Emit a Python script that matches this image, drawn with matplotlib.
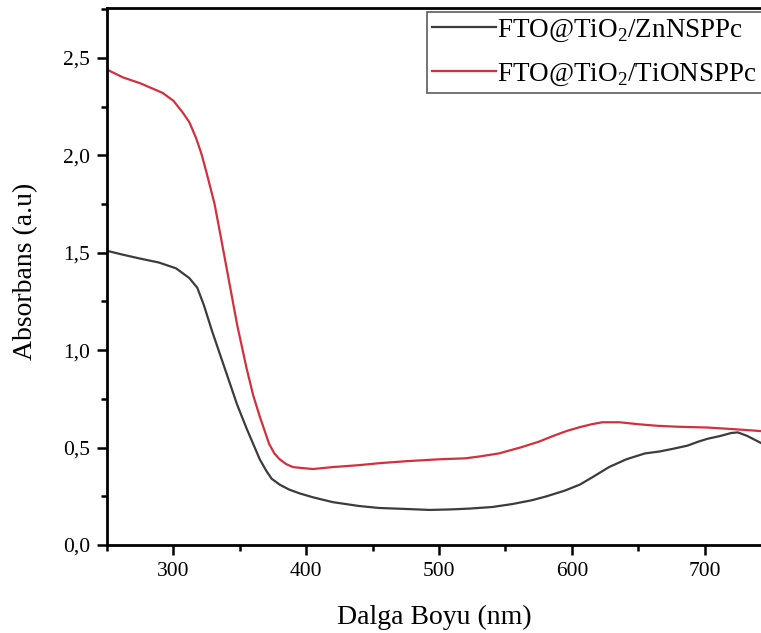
import matplotlib
matplotlib.use("Agg")
import matplotlib.pyplot as plt
from matplotlib.ticker import FuncFormatter, MultipleLocator

plt.rcParams["font.family"] = ["Liberation Serif", "DejaVu Serif"]
plt.rcParams["mathtext.fontset"] = "custom"
plt.rcParams["mathtext.rm"] = "Liberation Serif"

COLOR_ZN = "#3c3c3c"
COLOR_TI = "#d3303e"

# wavelength (nm) / absorbance
wl_zn = [250, 262, 275, 289, 302, 312, 318, 323, 329, 336, 342, 348, 355, 360, 365,
         370, 374, 380, 387, 395, 405, 420, 440, 455, 475, 493, 510, 523, 540, 555,
         570, 581, 595, 606, 616, 628, 641, 655, 666, 677, 687, 695, 702, 712, 720,
         725, 732, 742]
ab_zn = [1.51, 1.49, 1.47, 1.45, 1.42, 1.37, 1.32, 1.23, 1.10, 0.96, 0.84, 0.72, 0.60, 0.52, 0.44,
         0.38, 0.34, 0.31, 0.285, 0.265, 0.245, 0.22, 0.20, 0.19, 0.185, 0.18, 0.183, 0.187, 0.195, 0.21,
         0.23, 0.25, 0.28, 0.31, 0.35, 0.40, 0.44, 0.47, 0.48, 0.495, 0.51, 0.53, 0.545, 0.56, 0.575,
         0.578, 0.56, 0.525]

wl_ti = [250, 262, 275, 292, 300, 307, 312, 317, 321, 325, 331, 336, 342, 348, 355, 360,
         365, 369, 372, 376, 380, 385, 390, 397, 405, 420, 440, 455, 475, 500, 520,
         531, 545, 561, 575, 586, 596, 606, 615, 623, 636, 650, 664, 680, 702, 721,
         742]
ab_ti = [2.44, 2.40, 2.37, 2.32, 2.28, 2.22, 2.17, 2.09, 2.01, 1.91, 1.75, 1.57, 1.35, 1.13, 0.91, 0.77,
         0.66, 0.58, 0.52, 0.47, 0.44, 0.415, 0.40, 0.395, 0.39, 0.40, 0.41, 0.42, 0.43, 0.44, 0.445,
         0.455, 0.47, 0.50, 0.53, 0.56, 0.585, 0.605, 0.62, 0.63, 0.63, 0.62, 0.612, 0.607, 0.603, 0.595,
         0.585]

LABEL_ZN = "FTO@TiO$_2$/ZnNSPPc"
LABEL_TI = "FTO@TiO$_2$/TiONSPPc"


def comma_fmt(v, pos):
    return f"{v:.1f}".replace(".", ",")


def main():
    fig = plt.figure(figsize=(7.61, 6.33), dpi=100)
    ax = fig.add_axes([0.1406, 0.139, 1.0 - 0.1406, 0.987 - 0.139])

    ax.plot(wl_zn, ab_zn, color=COLOR_ZN, lw=1.6, label=LABEL_ZN)
    ax.plot(wl_ti, ab_ti, color=COLOR_TI, lw=1.6, label=LABEL_TI)

    ax.set_xlim(250, 742.4)
    ax.set_ylim(0, 2.755)

    ax.xaxis.set_major_locator(MultipleLocator(100))
    ax.xaxis.set_minor_locator(MultipleLocator(50))
    ax.yaxis.set_major_locator(MultipleLocator(0.5))
    ax.yaxis.set_minor_locator(MultipleLocator(0.25))
    ax.yaxis.set_major_formatter(FuncFormatter(comma_fmt))

    ax.tick_params(which="major", direction="out", length=7, width=1.8,
                   labelsize=15.5, pad=5)
    ax.tick_params(which="minor", direction="out", length=4, width=1.8)
    ax.tick_params(top=False, right=False)

    for side in ["left", "bottom", "top"]:
        ax.spines[side].set_linewidth(2)
    ax.spines["right"].set_visible(False)

    ax.set_xlabel("Dalga Boyu (nm)", fontsize=20)
    ax.set_ylabel("Absorbans (a.u)", fontsize=20)
    ax.xaxis.set_label_coords(0.5, -0.112)
    ax.yaxis.set_label_coords(-0.105, 0.51)

    leg = ax.legend(loc="upper left", bbox_to_anchor=(0.489, 0.993),
                    fontsize=19.5, frameon=True, fancybox=False,
                    handlelength=2.35, handletextpad=0.05, borderpad=0.2,
                    labelspacing=0.65, borderaxespad=0)
    leg.get_frame().set_edgecolor("#333333")
    leg.get_frame().set_linewidth(1.2)

    fig.savefig("out.png", dpi=100)
    plt.close(fig)


if __name__ == "__main__":
    main()
